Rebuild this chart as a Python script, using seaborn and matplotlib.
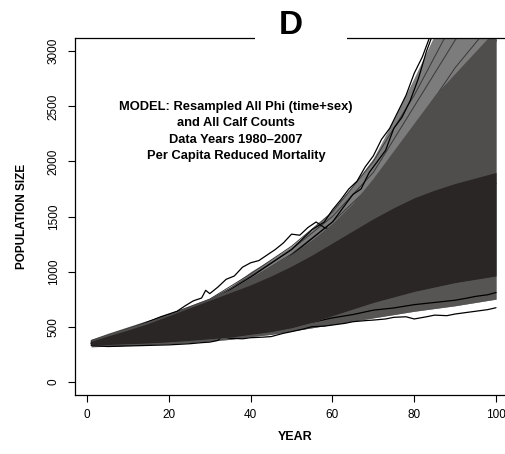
import matplotlib
matplotlib.use("Agg")
import numpy as np
import pandas as pd
import matplotlib.pyplot as plt
import seaborn as sns
from matplotlib.patches import Rectangle

# ---- projected population trajectories (simulation fan) ----
grid_years = [1, 5, 10, 15, 20, 25, 30, 35, 40, 45, 50, 55, 60, 65, 70, 75, 80, 85, 90, 95, 100]
fan_max = [385, 440, 500, 560, 620, 690, 760, 860, 1000, 1110, 1230, 1380, 1560, 1780, 2030, 2380, 2760, 3150, 3500, 3800, 4100]
fan_upper = [378, 432, 490, 550, 612, 680, 750, 840, 950, 1050, 1160, 1290, 1440, 1620, 1850, 2100, 2350, 2600, 2800, 3000, 3200]
core_upper = [368, 415, 470, 530, 600, 670, 740, 810, 880, 960, 1050, 1150, 1260, 1370, 1480, 1580, 1670, 1740, 1800, 1850, 1900]
core_lower = [335, 338, 345, 352, 362, 375, 390, 405, 430, 455, 490, 540, 600, 660, 720, 770, 820, 860, 900, 930, 960]
fan_min = [318, 322, 330, 338, 345, 355, 370, 385, 410, 430, 460, 490, 520, 550, 580, 610, 640, 665, 690, 720, 750]

# a few upper runs sampled every 10 years
decade_years = [1, 10, 20, 30, 40, 50, 60, 70, 80, 90, 100]
dark_runs = [
    [370, 480, 600, 740, 960, 1200, 1500, 1900, 2500, 3100, 3600],
    [375, 485, 610, 750, 980, 1230, 1540, 2000, 2600, 3300, 3800],
    [368, 476, 596, 730, 930, 1160, 1450, 1800, 2300, 2850, 3300],
]

# individual extreme runs drawn in black
run_a_years = [1, 6, 12, 18, 22, 24, 26, 28, 29, 30, 32, 34, 36, 38, 40, 42, 44, 46, 48, 50, 52, 54, 56, 58, 60, 65, 70, 80, 90, 100]
run_a_size = [360, 420, 500, 590, 640, 690, 735, 760, 830, 800, 860, 930, 960, 1040, 1080, 1100, 1150, 1200, 1260, 1340, 1330, 1400, 1450, 1400, 1380, 1450, 1500, 1600, 1700, 1800]
run_b_years = [1, 10, 20, 30, 40, 50, 55, 58, 60, 62, 64, 66, 68, 70, 72, 74, 76, 78, 80, 82, 84, 86]
run_b_size = [350, 470, 580, 720, 950, 1200, 1380, 1450, 1560, 1650, 1750, 1820, 1950, 2050, 2200, 2300, 2450, 2600, 2800, 2950, 3150, 3300]
run_c_years = [1, 15, 30, 45, 60, 63, 65, 67, 69, 71, 73, 75, 77, 79, 81, 83, 85]
run_c_size = [350, 520, 700, 1000, 1450, 1600, 1700, 1750, 1900, 2000, 2100, 2300, 2400, 2550, 2750, 3000, 3200]
run_d_years = [1, 20, 40, 60, 70, 80, 85, 88, 90, 92, 94, 95, 96, 98, 100]
run_d_size = [350, 560, 850, 1300, 1650, 2050, 2300, 2500, 2550, 2700, 2900, 2750, 2950, 2850, 3100]
run_e_years = [1, 5, 10, 15, 20, 25, 28, 30, 32, 33, 35, 38, 40, 43, 45, 48, 50, 53, 55, 58, 60, 63, 65, 68, 70, 73, 75, 78, 80, 83, 85, 88, 90, 93, 95, 98, 100]
run_e_size = [330, 320, 325, 330, 335, 345, 355, 360, 375, 410, 395, 390, 400, 405, 410, 440, 455, 480, 500, 505, 515, 530, 545, 555, 560, 570, 585, 590, 570, 590, 605, 600, 615, 630, 640, 655, 672]
run_f_years = [1, 20, 40, 50, 55, 60, 65, 70, 75, 80, 85, 90, 93, 95, 98, 100]
run_f_size = [340, 370, 460, 520, 540, 580, 610, 650, 670, 700, 720, 740, 760, 775, 790, 810]

x_ticks = [0, 20, 40, 60, 80, 100]
y_ticks = [0, 500, 1000, 1500, 2000, 2500, 3000]
notes = ["MODEL: Resampled All Phi (time+sex)",
         "and All Calf Counts",
         "Data Years 1980\u20132007",
         "Per Capita Reduced Mortality"]

runs = pd.concat([
    pd.DataFrame({"run": name, "year": yrs, "size": vals})
    for name, yrs, vals in [
        ("a", run_a_years, run_a_size), ("b", run_b_years, run_b_size),
        ("c", run_c_years, run_c_size), ("d", run_d_years, run_d_size),
        ("e", run_e_years, run_e_size), ("f", run_f_years, run_f_size),
    ]
], ignore_index=True)

dark = pd.concat([pd.DataFrame({"run": i, "year": decade_years, "size": r})
                  for i, r in enumerate(dark_runs)], ignore_index=True)

sns.set_theme(style="white")
plt.rcParams["font.family"] = ["Liberation Sans", "DejaVu Sans"]
plt.rcParams["text.color"] = "black"
plt.rcParams["xtick.color"] = "black"
plt.rcParams["ytick.color"] = "black"
plt.rcParams["xtick.labelcolor"] = "black"
plt.rcParams["ytick.labelcolor"] = "black"

W, H = 506, 454
fig = plt.figure(figsize=(W / 100, H / 100), dpi=100)
ax = fig.add_axes([75 / W, 59 / H, 437.2 / W, 357 / H])

def fx(x):
    return x / W

def fy(y):
    return 1 - y / H

# shaded density of simulated runs, lighter at the margins, darkest at the core
ax.fill_between(grid_years, fan_min, fan_max, color="#7c7c7c", lw=0, zorder=1)
ax.fill_between(grid_years, fan_min, core_lower, color="#575454", lw=0, zorder=1)
sns.lineplot(data=dark, x="year", y="size", units="run", estimator=None,
             color="#3a3838", lw=0.7, legend=False, ax=ax, zorder=1.5)
sns.lineplot(data=runs, x="year", y="size", units="run", estimator=None,
             color="black", lw=0.9, legend=False, ax=ax, zorder=2)
ax.fill_between(grid_years, core_lower, fan_upper, color="#504d4d", lw=0, zorder=3)
ax.fill_between(grid_years, core_lower, core_upper, color="#2a2625", lw=0, zorder=3)

ax.set_xlim(-2.96, 103.96)
ax.set_ylim(-120, 3120)
ax.set_xticks(x_ticks)
ax.set_yticks(y_ticks)
ax.set_xlabel("")
ax.set_ylabel("")
ax.tick_params(axis="both", direction="out", length=5, width=0.8, colors="black",
               labelsize=8.5, bottom=True, left=True)
ax.tick_params(axis="x", pad=5)
ax.tick_params(axis="y", pad=6)
for lab in ax.get_yticklabels():
    lab.set_rotation(90)
    lab.set_va("center")
for sp in ax.spines.values():
    sp.set_color("black")
    sp.set_linewidth(0.9)
    sp.set_visible(True)
    sp.set_zorder(5)

fig.text(fx(295), fy(437), "YEAR", fontsize=9, fontweight="bold",
         ha="center", va="center")
fig.text(fx(22), fy(216), "POPULATION SIZE", fontsize=8.5, fontweight="bold",
         rotation=90, ha="center", va="center")

for i, line in enumerate(notes):
    fig.text(fx(236), fy(107 + 16.5 * i), line, fontsize=9.3, fontweight="bold",
             ha="center", va="center")

# panel letter sits in a gap cut into the top frame
fig.add_artist(Rectangle((fx(255), fy(46)), (347 - 255) / W, 16 / H,
                         transform=fig.transFigure, facecolor="white",
                         edgecolor="none", zorder=5))
fig.text(fx(291), fy(25), "D", fontsize=24, fontweight="bold",
         ha="center", va="center", zorder=6)

fig.savefig("out.png", dpi=100)
